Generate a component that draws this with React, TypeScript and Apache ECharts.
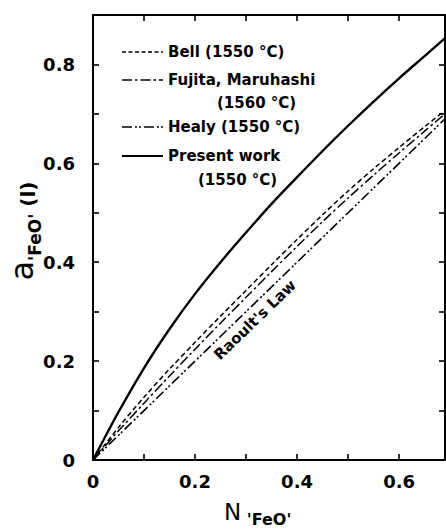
import React, { useEffect, useRef } from "react";
import * as echarts from "echarts";

const nValues = [0, 0.05, 0.1, 0.15, 0.2, 0.25, 0.3, 0.35, 0.4, 0.45, 0.5, 0.55, 0.6, 0.65, 0.7];
const presentWork = [0, 0.097, 0.186, 0.265, 0.336, 0.4, 0.46, 0.518, 0.572, 0.625, 0.676, 0.725, 0.772, 0.817, 0.862];
const bell = [0, 0.066, 0.127, 0.184, 0.238, 0.291, 0.343, 0.395, 0.446, 0.496, 0.544, 0.589, 0.632, 0.674, 0.715];
const fujita = [0, 0.059, 0.115, 0.17, 0.224, 0.277, 0.329, 0.381, 0.432, 0.482, 0.53, 0.576, 0.621, 0.665, 0.709];
const healyN = [0, 0.7];
const healy = [0, 0.7];

const legendItems = [
  { label: "Bell (1550 °C)", sub: "", dash: [4, 2.5], width: 1.4 },
  { label: "Fujita, Maruhashi", sub: "(1560 °C)", dash: [10, 3, 2.5, 3], width: 1.6 },
  { label: "Healy (1550 °C)", sub: "", dash: [10, 3, 2, 2, 2, 3], width: 1.6 },
  { label: "Present work", sub: "(1550 °C)", dash: null, width: 2.2 },
];

const FONT = "DejaVu Sans";

function pairs(xs: number[], ys: number[]) {
  return xs.map((x, i) => [x, ys[i]]);
}

export default function App() {
  const ref = useRef<HTMLDivElement>(null);
  useEffect(() => {
    if (!ref.current) return;
    const chart = echarts.init(ref.current, undefined, { renderer: "svg" });
    const labelFmt = (v: number) => {
      const k = Math.round(v * 10);
      if (Math.abs(v * 10 - k) > 1e-6) return "";
      if (k % 2 !== 0) return "";
      return k === 0 ? "0" : (k / 10).toFixed(1);
    };
    const tickStyle = { show: true, inside: true, length: 6, lineStyle: { color: "#000", width: 1.6 } };
    const axisLineStyle = { show: true, onZero: false, lineStyle: { color: "#000", width: 2 } };
    const legendGraphics: any[] = [];
    const rowY = [52, 80, 127, 156];
    const subY = [0, 103, 0, 180];
    const subX = [0, 217, 0, 198];
    legendItems.forEach((it, i) => {
      legendGraphics.push({
        type: "line",
        shape: { x1: 122, y1: rowY[i], x2: 163, y2: rowY[i] },
        style: { stroke: "#000", lineWidth: it.width, lineDash: it.dash || undefined },
      });
      legendGraphics.push({
        type: "text",
        x: 168,
        y: rowY[i],
        style: { text: it.label, font: `bold 15px '${FONT}'`, fill: "#000", textVerticalAlign: "middle", verticalAlign: "middle" },
      });
      if (it.sub) {
        legendGraphics.push({
          type: "text",
          x: subX[i],
          y: subY[i],
          style: { text: it.sub, font: `bold 15px '${FONT}'`, fill: "#000", textVerticalAlign: "middle", verticalAlign: "middle" },
        });
      }
    });
    const option: any = {
      animation: false,
      backgroundColor: "#fff",
      grid: { left: 93, top: 15, right: 1, bottom: 71, show: false },
      xAxis: [
        {
          type: "value", min: 0, max: 0.69, interval: 0.1, position: "bottom",
          axisLine: axisLineStyle, axisTick: tickStyle, splitLine: { show: false },
          axisLabel: { formatter: labelFmt, color: "#000", fontFamily: FONT, fontWeight: "bold", fontSize: 18, margin: 12, showMaxLabel: false },
        },
        {
          type: "value", min: 0, max: 0.69, interval: 0.1, position: "top",
          axisLine: axisLineStyle, axisTick: tickStyle, splitLine: { show: false }, axisLabel: { show: false },
        },
      ],
      yAxis: [
        {
          type: "value", min: 0, max: 0.9, interval: 0.1, position: "left",
          axisLine: axisLineStyle, axisTick: tickStyle, splitLine: { show: false },
          axisLabel: { formatter: labelFmt, color: "#000", fontFamily: FONT, fontWeight: "bold", fontSize: 18, margin: 18 },
        },
        {
          type: "value", min: 0, max: 0.9, interval: 0.1, position: "right",
          axisLine: axisLineStyle, axisTick: tickStyle, splitLine: { show: false }, axisLabel: { show: false },
        },
      ],
      series: [
        {
          name: "Present work", type: "line", smooth: 0.3, symbol: "none",
          data: pairs(nValues, presentWork), lineStyle: { color: "#000", width: 2.4 },
        },
        {
          name: "Bell", type: "line", smooth: 0.3, symbol: "none",
          data: pairs(nValues, bell), lineStyle: { color: "#000", width: 1.5, type: [5, 3] },
        },
        {
          name: "Fujita, Maruhashi", type: "line", smooth: 0.3, symbol: "none",
          data: pairs(nValues, fujita), lineStyle: { color: "#000", width: 1.5, type: [10, 3, 2.5, 3] },
        },
        {
          name: "Healy", type: "line", symbol: "none",
          data: pairs(healyN, healy), lineStyle: { color: "#000", width: 1.6, type: [10, 3, 2, 2, 2, 3] },
        },
      ],
      graphic: [
        ...legendGraphics,
        {
          type: "text", x: 255, y: 320, rotation: Math.PI / 4 * 0.98,
          style: { text: "Raoult's Law", font: `bold 15px '${FONT}'`, fill: "#000", textAlign: "center", textVerticalAlign: "middle", align: "center", verticalAlign: "middle" },
        },
        {
          type: "text", x: 224, y: 512,
          style: {
            text: "{n|N}{s| 'FeO'}",
            fill: "#000",
            textVerticalAlign: "middle", verticalAlign: "middle",
            rich: {
              n: { fontFamily: FONT, fontSize: 23, fill: "#000", verticalAlign: "bottom" },
              s: { fontFamily: FONT, fontSize: 16, fontWeight: "bold", fill: "#000", verticalAlign: "bottom", padding: [0, 0, -4, 0] },
            },
          },
        },
        {
          type: "text", x: 22, y: 231, rotation: Math.PI / 2,
          style: {
            text: "{n|a}{s|'FeO'}{p| (l)}",
            fill: "#000",
            textAlign: "center", align: "center", textVerticalAlign: "middle", verticalAlign: "middle",
            rich: {
              n: { fontFamily: FONT, fontSize: 32, fill: "#000", verticalAlign: "bottom" },
              s: { fontFamily: FONT, fontSize: 17, fontWeight: "bold", fill: "#000", verticalAlign: "bottom", padding: [0, 0, -5, 0] },
              p: { fontFamily: FONT, fontSize: 20, fontWeight: "bold", fill: "#000", verticalAlign: "bottom" },
            },
          },
        },
      ],
    };
    chart.setOption(option);
    return () => chart.dispose();
  }, []);
  return (
    <div
      ref={ref}
      style={{ position: "absolute", left: 0, top: 0, width: 446, height: 531, background: "#fff" }}
    />
  );
}
